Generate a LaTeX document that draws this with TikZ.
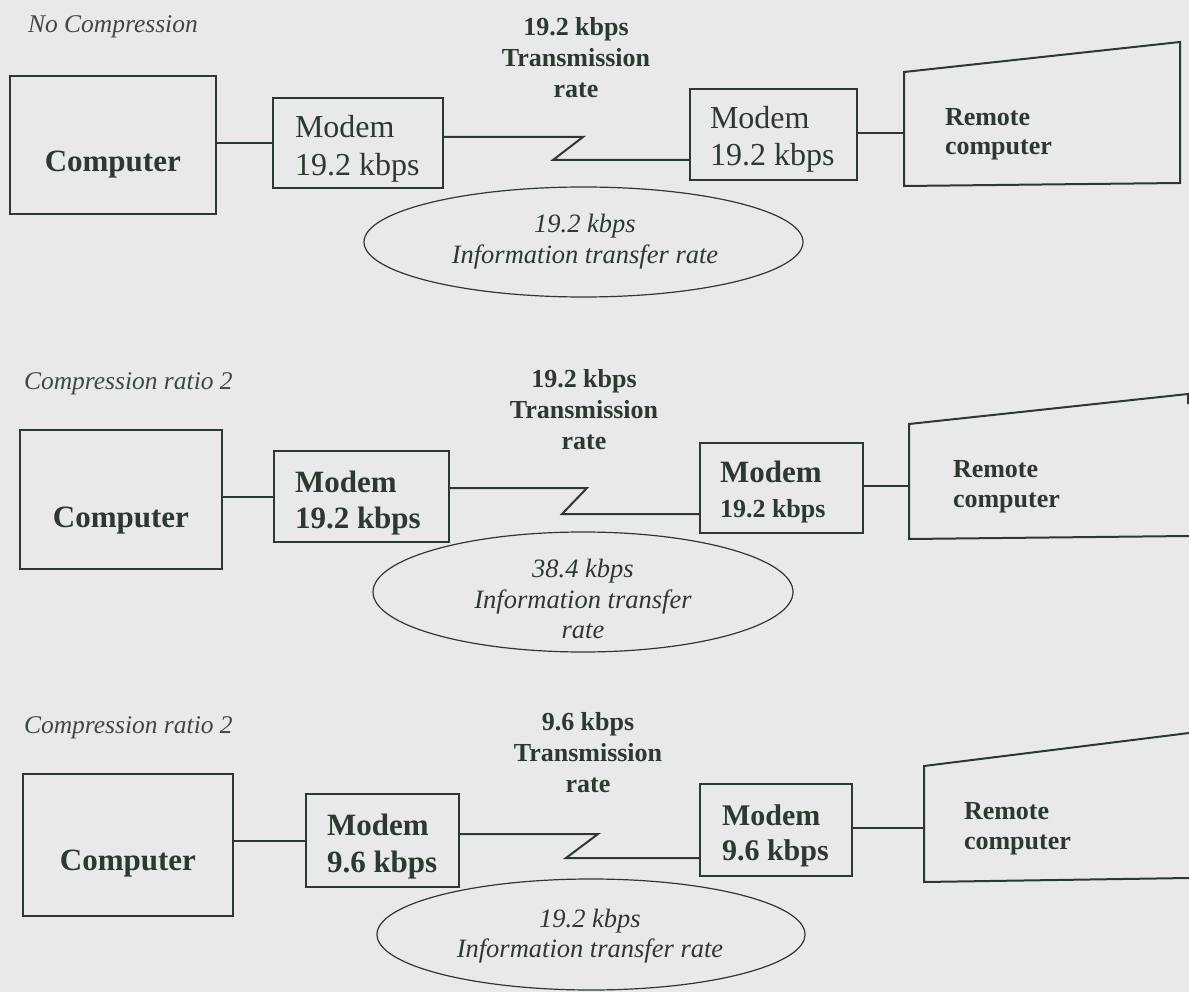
\documentclass[tikz,border=0pt]{standalone}
\usepackage{fontspec}
\setmainfont{Liberation Serif}
\usetikzlibrary{shapes.geometric}
\definecolor{ink}{RGB}{44,56,48}
\definecolor{softink}{RGB}{62,72,66}
\definecolor{paper}{RGB}{233,233,235}
\newcommand{\setfs}[2]{\fontsize{#1}{#2}\selectfont}

\begin{document}
\begin{tikzpicture}[x=1pt,y=-1pt,
  box/.style={draw=ink,line width=2pt,rectangle,inner sep=0pt,outer sep=0pt},
  oval/.style={draw=ink,line width=1.2pt,ellipse,inner sep=0pt,outer sep=0pt},
  wire/.style={draw=ink,line width=2pt,line join=miter},
  txt/.style={text=ink,inner sep=0pt,outer sep=0pt},
  casetitle/.style={txt,text=softink,anchor=base west,font=\itshape\setfs{25.5}{30}},
  comptext/.style={txt,anchor=base,font=\bfseries\setfs{31}{36}},
  ratetext/.style={txt,align=center,font=\bfseries\setfs{26}{31}},
  infotext/.style={txt,align=center,font=\itshape\setfs{26.5}{30.5}},
  modemtext/.style={txt,align=left,anchor=west},
  remotetext/.style={txt,align=left,anchor=west,font=\bfseries\setfs{26}{29.5}},
]
% page and background
\useasboundingbox (0,0) rectangle (1189,992);
\fill[paper] (0,0) rectangle (1189,992);

% ---------------- case 1: no compression ----------------
\node[casetitle] (h1) at (28,33) {No Compression};
\node[ratetext] (t1) at (576,57.2) {19.2 kbps\\Transmission\\rate};

\node[box,minimum width=206.4pt,minimum height=138pt] (c1) at (112.8,145) {};
\node[comptext] (c1l) at ([yshift=-96pt]c1.north) {Computer};

\node[box,minimum width=170pt,minimum height=90pt] (m1) at (358,143) {};
\node[modemtext,font=\setfs{32}{38}] (m1l) at (295,148.5) {Modem\\19.2 kbps};

\node[box,minimum width=167pt,minimum height=91pt] (m2) at (773.5,134.5) {};
\node[modemtext,font=\setfs{32}{37}] (m2l) at (710,139) {Modem\\19.2 kbps};

\draw[wire] (904,72) -- (1180,42) -- (1180,183) -- (904,186) -- cycle;
\coordinate (r1) at (904,133);
\node[remotetext] (r1l) at (945,134.4) {Remote\\computer};

\node[oval,minimum width=439pt,minimum height=110pt] (e1) at (583.5,242) {};
\node[infotext] (e1l) at (585,241.7) {19.2 kbps\\Information transfer rate};

\coordinate (z1t) at (583,137);
\coordinate (z1b) at (553,160);
\draw[wire] (c1.east |- m1.west) -- (m1.west);
\draw[wire] (m1.east |- z1t) -- (z1t) -- (z1b) -- (z1b -| m2.west);
\draw[wire] (m2.east |- r1) -- (r1);

% ---------------- case 2: compression ratio 2, 19.2 kbps modems ----------------
\node[casetitle] (h2) at (24,389) {Compression ratio 2};
\node[ratetext] (t2) at (584,409.2) {19.2 kbps\\Transmission\\rate};

\node[box,minimum width=202pt,minimum height=139pt] (c2) at (121,499.5) {};
\node[comptext] (c2l) at ([yshift=-97pt]c2.north) {Computer};

\node[box,minimum width=175pt,minimum height=91pt] (m3) at (361.5,496.5) {};
\node[modemtext,font=\bfseries\setfs{31}{36}] (m3l) at (295,502.7) {Modem\\19.2 kbps};

\node[box,minimum width=163pt,minimum height=90pt] (m4) at (781.5,488) {};
\node[modemtext,font=\bfseries\setfs{31}{35}] (m4l) at (720,491.7) {Modem\\{\setfs{26}{35}19.2 kbps}};

\draw[wire] (1188,404) -- (1188,394) -- (909,424) -- (909,539) -- (1189,536);
\coordinate (r2) at (909,486);
\node[remotetext] (r2l) at (953,486.9) {Remote\\computer};

\node[oval,minimum width=420pt,minimum height=120pt] (e2) at (583,592) {};
\node[infotext] (e2l) at (583,599) {38.4 kbps\\Information transfer\\rate};

\coordinate (z2t) at (587,488);
\coordinate (z2b) at (562,514);
\draw[wire] (c2.east |- m3.west) -- (m3.west);
\draw[wire] (m3.east |- z2t) -- (z2t) -- (z2b) -- (z2b -| m4.west);
\draw[wire] (m4.east |- r2) -- (r2);

% ---------------- case 3: compression ratio 2, 9.6 kbps modems ----------------
\node[casetitle] (h3) at (24,733) {Compression ratio 2};
\node[ratetext] (t3) at (588,752.2) {9.6 kbps\\Transmission\\rate};

\node[box,minimum width=210pt,minimum height=142pt] (c3) at (128,845) {};
\node[comptext] (c3l) at ([yshift=-96pt]c3.north) {Computer};

\node[box,minimum width=153pt,minimum height=93pt] (m5) at (382.5,840.5) {};
\node[modemtext,font=\bfseries\setfs{31}{37}] (m5l) at (327,846.2) {Modem\\9.6 kbps};

\node[box,minimum width=152pt,minimum height=92pt] (m6) at (776,830) {};
\node[modemtext,font=\bfseries\setfs{30}{35}] (m6l) at (722,835.5) {Modem\\9.6 kbps};

\draw[wire] (1189,733) -- (924,766) -- (924,882) -- (1189,878);
\coordinate (r3) at (924,828);
\node[remotetext] (r3l) at (964,828.9) {Remote\\computer};

\node[oval,minimum width=428pt,minimum height=111pt] (e3) at (591,934.5) {};
\node[infotext] (e3l) at (590,936.2) {19.2 kbps\\Information transfer rate};

\coordinate (z3t) at (598,834);
\coordinate (z3b) at (566,858);
\draw[wire] (c3.east |- m5.west) -- (m5.west);
\draw[wire] (m5.east |- z3t) -- (z3t) -- (z3b) -- (z3b -| m6.west);
\draw[wire] (m6.east |- r3) -- (r3);
\end{tikzpicture}
\end{document}
